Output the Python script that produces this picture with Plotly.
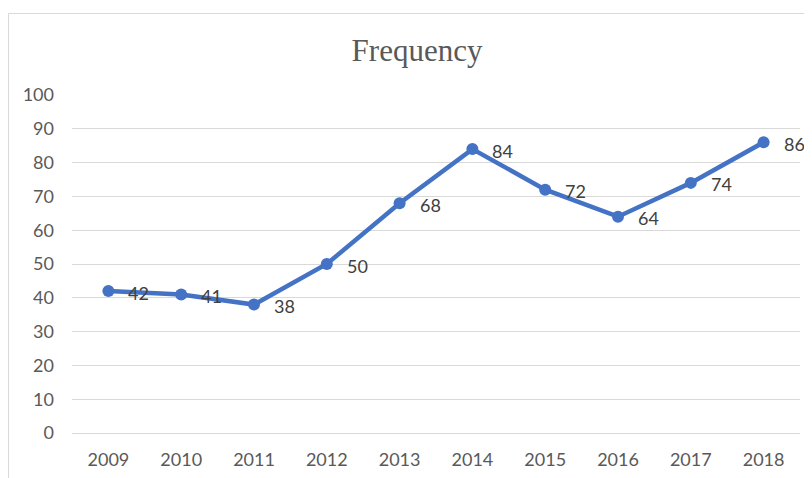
import plotly.graph_objects as go

years = ["2009", "2010", "2011", "2012", "2013", "2014", "2015", "2016", "2017", "2018"]
frequency = [42, 41, 38, 50, 68, 84, 72, 64, 74, 86]
y_ticks = [0, 10, 20, 30, 40, 50, 60, 70, 80, 90, 100]

FONT = "Lato, Open Sans, sans-serif"

fig = go.Figure()
fig.add_trace(go.Scatter(
    x=years, y=frequency, mode="lines+markers",
    line=dict(color="#4472C4", width=4.5),
    marker=dict(color="#4472C4", size=12),
    cliponaxis=False, showlegend=False,
))

for i, v in enumerate(frequency):
    fig.add_annotation(x=i, y=v, xref="x", yref="y", text=str(v), showarrow=False,
                       xanchor="left", yanchor="middle", xshift=18, yshift=-1.5,
                       font=dict(family=FONT, size=18, color="#404040"))

# body has an 8px default margin in the page; layout below is in figure coords
fig.update_layout(
    width=812, height=478,
    margin=dict(l=64, r=20, t=87, b=53),
    paper_bgcolor="white", plot_bgcolor="white",
    title=dict(text="Frequency", x=(417 - 64 - 8) / 728, xref="paper", xanchor="center",
               y=1 - 42 / 478, yanchor="middle",
               font=dict(family="Liberation Serif, Times New Roman, serif", size=31, color="#595959")),
    xaxis=dict(type="category", range=[-0.5, 9.5], showgrid=False, showline=False, zeroline=False,
               tickfont=dict(family=FONT, size=18, color="#595959"),
               ticks="", ticklabelstandoff=14),
    yaxis=dict(range=[0, 100], tickvals=y_ticks, showgrid=True, gridcolor="#D9D9D9", gridwidth=1,
               zeroline=True, zerolinecolor="#D9D9D9", zerolinewidth=1, showline=False,
               tickfont=dict(family=FONT, size=18, color="#595959"),
               ticks="", ticklabelstandoff=17),
    shapes=[dict(type="rect", xref="paper", yref="paper",
                 x0=(0.5 - 64) / 728, x1=1.05, y0=-0.3, y1=(425 - 5.5) / 338,
                 line=dict(color="#D9D9D9", width=1), fillcolor="rgba(0,0,0,0)", layer="below")],
)

fig.write_html("out.html")
